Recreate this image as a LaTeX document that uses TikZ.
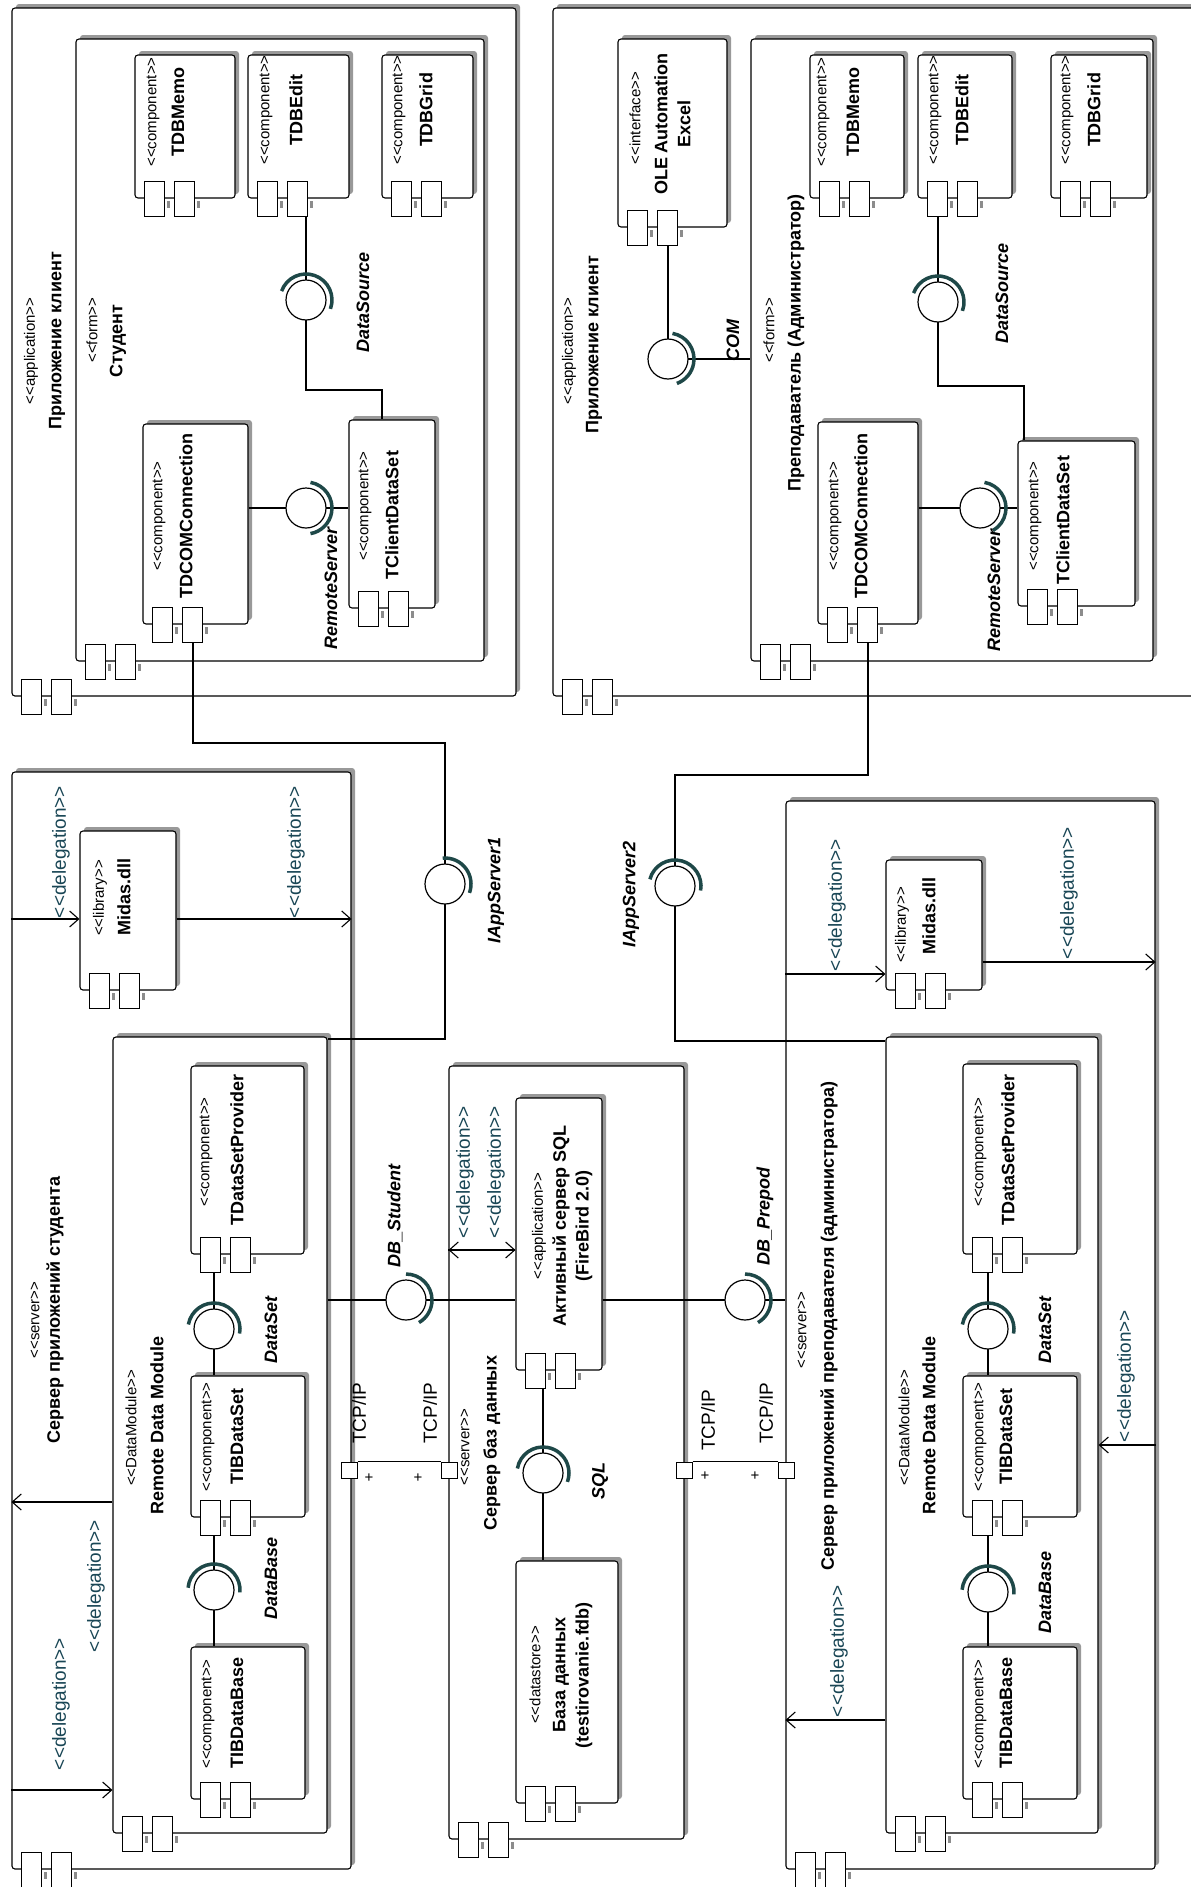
\documentclass[tikz,border=0pt]{standalone}
\usepackage{fontspec}
\setmainfont{Liberation Sans}[Ligatures=TeXOff]
\usetikzlibrary{arrows.meta,calc,fit,shadows}
\definecolor{dteal}{RGB}{25,70,85}
\definecolor{sockc}{RGB}{30,72,72}
\newcommand\fS{\fontsize{15}{17}\selectfont}
\newcommand\fN{\fontsize{18}{20}\selectfont\bfseries}
\newcommand\fI{\fontsize{18}{20}\selectfont\bfseries\itshape}
\newcommand\fD{\fontsize{19}{21}\selectfont}
\newcommand\stt[1]{\textless\kern0pt\textless #1\textgreater\kern0pt\textgreater}
\newcommand\cb[5]{\node[bx, fit={(#2,#3) (#4,#5)}] (#1) {};
  \node[prt, anchor=west] (#1p1) at ($(#1.south west)+(10,0)$) {};
  \node[prt, anchor=west] (#1p2) at ($(#1.south west)+(40,0)$) {};
  \fill[black!45] ($(#1p1.east)+(1.5,2)$) rectangle ++(3,7);
  \fill[black!45] ($(#1p2.east)+(1.5,2)$) rectangle ++(3,7);}
\newcommand\sock[3]{\draw[sockst] ($(#1.center)+(#2:26pt)$) arc[start angle=#2, end angle=#3, radius=26pt];}
\newcommand\tx[4]{\node[txt, #4] (#1) at (#2) {#3};}
\begin{document}
\begin{tikzpicture}[x=1pt,y=-1pt, line width=1.1pt,
  bx/.style={draw, fill=white, rounded corners=3pt, inner sep=0pt, line width=1.1pt,
    drop shadow={shadow xshift=4pt, shadow yshift=4pt, fill=black!40, opacity=1}},
  prt/.style={draw, fill=white, inner sep=0pt, minimum width=20pt, minimum height=35pt, line width=1pt},
  tcp/.style={draw, fill=white, inner sep=0pt, minimum width=16pt, minimum height=16pt, line width=1pt},
  ifc/.style={circle, draw, fill=white, minimum size=40pt, inner sep=0pt, line width=1.2pt},
  sockst/.style={draw=sockc, line width=3.5pt},
  dlg/.style={-{Straight Barb[length=9pt,width=16pt]}, line width=1.1pt},
  txt/.style={rotate=90, inner sep=0pt, anchor=center},
  st/.style={font=\fS},
  nm/.style={font=\fN},
  it/.style={font=\fI},
  dl/.style={font=\fD, text=dteal}]
\fill[white] (0,0) rectangle (1191,1887);
\path[use as bounding box] (0,0) rectangle (1191,1887);
\clip (0,0) rectangle (1191,1887);

% ---------- student client application ----------
\cb{sApp}{12}{8}{516}{696}
\cb{sForm}{76}{39}{484}{661}
\cb{sMemo}{135}{55}{235}{198}
\cb{sEdit}{248}{55}{349}{198}
\cb{sGrid}{382}{55}{473}{198}
\cb{sCon}{143}{424}{248}{624}
\cb{sCDS}{349}{420}{435}{608}

% ---------- teacher client application ----------
\cb{tApp}{553}{8}{1215}{696}
\cb{tOle}{618}{39}{727}{227}
\cb{tForm}{751}{39}{1153}{661}
\cb{tMemo}{810}{55}{904}{198}
\cb{tEdit}{918}{55}{1012}{198}
\cb{tGrid}{1051}{55}{1147}{198}
\cb{tCon}{818}{422}{918}{624}
\cb{tCDS}{1018}{441}{1135}{606}

% ---------- student application server ----------
\cb{sSrv}{12}{772}{351}{1869}
\cb{sMid}{80}{831}{176}{990}
\cb{sRDM}{113}{1037}{327}{1833}
\cb{sProv}{191}{1066}{304}{1254}
\cb{sIBS}{191}{1376}{305}{1517}
\cb{sIBD}{191}{1647}{305}{1799}

% ---------- database server ----------
\cb{dSrv}{449}{1066}{684}{1839}
\cb{dFB}{516}{1098}{602}{1370}
\cb{dDS}{516}{1561}{618}{1803}

% ---------- teacher application server ----------
\cb{tSrv}{786}{801}{1155}{1869}
\cb{tMid}{886}{860}{982}{990}
\cb{tRDM}{886}{1037}{1098}{1833}
\cb{tProv}{963}{1064}{1077}{1254}
\cb{tIBS}{963}{1376}{1077}{1517}
\cb{tIBD}{963}{1647}{1077}{1799}

% ---------- bend points ----------
\coordinate (c1) at (382,390);
\coordinate (c2) at (445,743);
\coordinate (c3) at (445,1039);
\coordinate (c4) at (1024,386);
\coordinate (c5) at (675,775);
\coordinate (c6) at (675,1041);
\coordinate (Y919) at (0,919);
\coordinate (Y1502) at (0,1502);
\coordinate (Y1790) at (0,1790);
\coordinate (Y1250) at (0,1250);
\coordinate (Y974) at (0,974);
\coordinate (Y962) at (0,962);
\coordinate (Y1720) at (0,1720);
\coordinate (Y1445) at (0,1445);

% ---------- interface circles (positions) ----------
\path (306,300) coordinate (p-sDSrc) (306,508) coordinate (p-sRS) (445,884) coordinate (p-sIA)
      (214,1329) coordinate (p-sDSet) (214,1590) coordinate (p-sDB) (406,1300) coordinate (p-dbS)
      (543,1473) coordinate (p-sql) (745,1300) coordinate (p-dbP) (675,886) coordinate (p-tIA)
      (988,1329) coordinate (p-tDSet) (988,1592) coordinate (p-tDB) (668,359) coordinate (p-com)
      (938,302) coordinate (p-tDSrc) (980,508) coordinate (p-tRS);

% ---------- connectors ----------
\draw (p-sDSrc) -- (p-sDSrc |- sEditp2.south);
\draw (p-sDSrc) |- (c1) -- (c1 |- sCDS.north);
\draw (sCon.east |- p-sRS) -- (p-sRS) -- (p-sRS -| sCDS.west);
\draw (sConp2.south) |- (c2) -- (p-sIA) -- (c3) -- (c3 -| sRDM.east);
\draw (p-com) -- (p-com |- tOlep2.south);
\draw (p-com) -- (p-com -| tForm.west);
\draw (p-tDSrc) -- (p-tDSrc |- tEditp1.south);
\draw (p-tDSrc) |- (c4) -- (c4 |- tCDS.north);
\draw (tCon.east |- p-tRS) -- (p-tRS) -- (p-tRS -| tCDS.west);
\draw (tConp2.south) |- (c5) -- (p-tIA) -- (c6) -- (c6 -| tRDM.west);
\draw (sRDM.east |- p-dbS) -- (p-dbS) -- (p-dbS -| dFB.west);
\draw (dFB.east |- p-dbP) -- (p-dbP) -- (p-dbP -| tSrv.west);
\draw (p-sql |- dFBp1.south) -- (p-sql) -- (p-sql |- dDS.north);
\draw (p-sDSet |- sProvp1.south) -- (p-sDSet) -- (p-sDSet |- sIBS.north);
\draw (p-sDB |- sIBSp1.south) -- (p-sDB) -- (p-sDB |- sIBD.north);
\draw (p-tDSet |- tProvp1.south) -- (p-tDSet) -- (p-tDSet |- tIBS.north);
\draw (p-tDB |- tIBSp1.south) -- (p-tDB) -- (p-tDB |- tIBD.north);

% delegations
\draw[dlg] (sSrv.west |- Y919) -- (sMid.west |- Y919);
\draw[dlg] (sMid.east |- Y919) -- (sSrv.east |- Y919);
\draw[dlg] (sRDM.west |- Y1502) -- (sSrv.west |- Y1502);
\draw[dlg] (sSrv.west |- Y1790) -- (sRDM.west |- Y1790);
\draw[dlg] (dFB.west |- Y1250) -- (dSrv.west |- Y1250);
\draw[dlg] (dSrv.west |- Y1250) -- (dFB.west |- Y1250);
\draw[dlg] (tSrv.west |- Y974) -- (tMid.west |- Y974);
\draw[dlg] (tMid.east |- Y962) -- (tSrv.east |- Y962);
\draw[dlg] (tRDM.west |- Y1720) -- (tSrv.west |- Y1720);
\draw[dlg] (tSrv.east |- Y1445) -- (tRDM.east |- Y1445);

% TCP/IP links
\node[tcp] (tp1) at (349,1470) {};
\node[tcp] (tp2) at (449,1470) {};
\node[tcp] (tp3) at (684,1470) {};
\node[tcp] (tp4) at (786,1470) {};
\draw (tp1.north east) -- (tp2.north west);
\draw (tp3.north east) -- (tp4.north west);
\node[font=\fontsize{15}{15}\selectfont, inner sep=0pt] (pl1) at (369,1478) {+};
\node[font=\fontsize{15}{15}\selectfont, inner sep=0pt] (pl2) at (418,1478) {+};
\node[font=\fontsize{15}{15}\selectfont, inner sep=0pt] (pl3) at (705,1476) {+};
\node[font=\fontsize{15}{15}\selectfont, inner sep=0pt] (pl4) at (755,1476) {+};

% interface circles and sockets
\foreach \n in {sDSrc,sRS,sIA,sDSet,sDB,dbS,sql,dbP,tIA,tDSet,tDB,com,tDSrc,tRS}
  \node[ifc] (\n) at (p-\n) {};
\sock{sDSrc}{160}{-20}
\sock{sRS}{80}{-80}
\sock{sIA}{95}{-20}
\sock{com}{80}{-70}
\sock{tDSrc}{160}{-20}
\sock{tRS}{80}{-60}
\sock{tIA}{165}{-10}
\sock{dbS}{90}{-60}
\sock{dbP}{90}{-60}
\sock{sDSet}{170}{-10}
\sock{sDB}{175}{-5}
\sock{tDSet}{170}{-10}
\sock{tDB}{175}{-5}
\sock{sql}{170}{-20}

% ---------- texts: student client ----------
\tx{a1}{31,351}{\stt{application}}{st}
\tx{a2}{57,341}{Приложение клиент}{nm}
\tx{a3}{92,330}{\stt{form}}{st}
\tx{a4}{118,341}{Студент}{nm}
\tx{a5}{153,112}{\stt{component}}{st}
\tx{a6}{178,112}{TDBMemo}{nm}
\tx{a7}{266,110}{\stt{component}}{st}
\tx{a8}{296,110}{TDBEdit}{nm}
\tx{a9}{399,110}{\stt{component}}{st}
\tx{a10}{426,110}{TDBGrid}{nm}
\tx{a11}{159,516}{\stt{component}}{st}
\tx{a12}{186,516}{TDCOMConnection}{nm}
\tx{a13}{365,506}{\stt{component}}{st}
\tx{a14}{392,515}{TClientDataSet}{nm}
\tx{a15}{363,302}{DataSource}{it}
\tx{a16}{331,588}{RemoteServer}{it}
\tx{a17}{496,890}{IAppServer1}{it}

% ---------- texts: teacher client ----------
\tx{b1}{569,351}{\stt{application}}{st}
\tx{b2}{594,345}{Приложение клиент}{nm}
\tx{b3}{635,118}{\stt{interface}}{st}
\tx{b4}{661,124}{OLE Automation}{nm}
\tx{b5}{684,124}{Excel}{nm}
\tx{b6}{769,330}{\stt{form}}{st}
\tx{b7}{796,343}{Преподаватель (Администратор)}{nm}
\tx{b8}{823,112}{\stt{component}}{st}
\tx{b9}{853,112}{TDBMemo}{nm}
\tx{b10}{935,110}{\stt{component}}{st}
\tx{b11}{962,110}{TDBEdit}{nm}
\tx{b12}{1067,110}{\stt{component}}{st}
\tx{b13}{1094,110}{TDBGrid}{nm}
\tx{b14}{835,516}{\stt{component}}{st}
\tx{b15}{861,516}{TDCOMConnection}{nm}
\tx{b16}{1035,516}{\stt{component}}{st}
\tx{b17}{1063,520}{TClientDataSet}{nm}
\tx{b18}{733,340}{COM}{it}
\tx{b19}{1002,293}{DataSource}{it}
\tx{b20}{994,590}{RemoteServer}{it}
\tx{b21}{631,894}{IAppServer2}{it}

% ---------- texts: student server ----------
\tx{c01}{35,1320}{\stt{server}}{st}
\tx{c02}{55,1310}{Сервер приложений студента}{nm}
\tx{c03}{100,898}{\stt{library}}{st}
\tx{c04}{124,897}{Midas.dll}{nm}
\tx{c05}{61,852}{\stt{delegation}}{dl}
\tx{c06}{296,852}{\stt{delegation}}{dl}
\tx{c07}{96,1586}{\stt{delegation}}{dl}
\tx{c08}{61,1704}{\stt{delegation}}{dl}
\tx{c09}{131,1428}{\stt{DataModule}}{st}
\tx{c10}{157,1425}{Remote Data Module}{nm}
\tx{c11}{206,1152}{\stt{component}}{st}
\tx{c12}{237,1150}{TDataSetProvider}{nm}
\tx{c13}{208,1437}{\stt{component}}{st}
\tx{c14}{237,1436}{TIBDataSet}{nm}
\tx{c15}{208,1714}{\stt{component}}{st}
\tx{c16}{237,1713}{TIBDataBase}{nm}
\tx{c17}{271,1330}{DataSet}{it}
\tx{c18}{271,1578}{DataBase}{it}
\tx{c19}{395,1216}{DB\_Student}{it}
\tx{c20}{359,1413}{TCP/IP}{font=\fD}
\tx{c21}{430,1413}{TCP/IP}{font=\fD}

% ---------- texts: database server ----------
\tx{d01}{465,1447}{\stt{server}}{st}
\tx{d02}{492,1443}{Сервер баз данных}{nm}
\tx{d03}{465,1172}{\stt{delegation}}{dl}
\tx{d04}{496,1172}{\stt{delegation}}{dl}
\tx{d05}{539,1226}{\stt{application}}{st}
\tx{d06}{561,1226}{Активный сервер SQL}{nm}
\tx{d07}{584,1226}{(FireBird 2.0)}{nm}
\tx{d08}{600,1481}{SQL}{it}
\tx{d09}{535,1675}{\stt{datastore}}{st}
\tx{d10}{561,1675}{База данных}{nm}
\tx{d11}{584,1675}{(testirovanie.fdb)}{nm}
\tx{d12}{765,1216}{DB\_Prepod}{it}
\tx{d13}{708,1420}{TCP/IP}{font=\fD}
\tx{d14}{766,1413}{TCP/IP}{font=\fD}

% ---------- texts: teacher server ----------
\tx{e01}{802,1330}{\stt{server}}{st}
\tx{e02}{829,1326}{Сервер приложений преподавателя (администратора)}{nm}
\tx{e03}{902,925}{\stt{library}}{st}
\tx{e04}{929,916}{Midas.dll}{nm}
\tx{e05}{837,905}{\stt{delegation}}{dl}
\tx{e06}{1069,893}{\stt{delegation}}{dl}
\tx{e07}{839,1651}{\stt{delegation}}{dl}
\tx{e08}{1126,1376}{\stt{delegation}}{dl}
\tx{e09}{904,1428}{\stt{DataModule}}{st}
\tx{e10}{929,1425}{Remote Data Module}{nm}
\tx{e11}{980,1152}{\stt{component}}{st}
\tx{e12}{1008,1150}{TDataSetProvider}{nm}
\tx{e13}{980,1437}{\stt{component}}{st}
\tx{e14}{1006,1436}{TIBDataSet}{nm}
\tx{e15}{980,1714}{\stt{component}}{st}
\tx{e16}{1006,1713}{TIBDataBase}{nm}
\tx{e17}{1045,1330}{DataSet}{it}
\tx{e18}{1045,1592}{DataBase}{it}
\end{tikzpicture}
\end{document}
